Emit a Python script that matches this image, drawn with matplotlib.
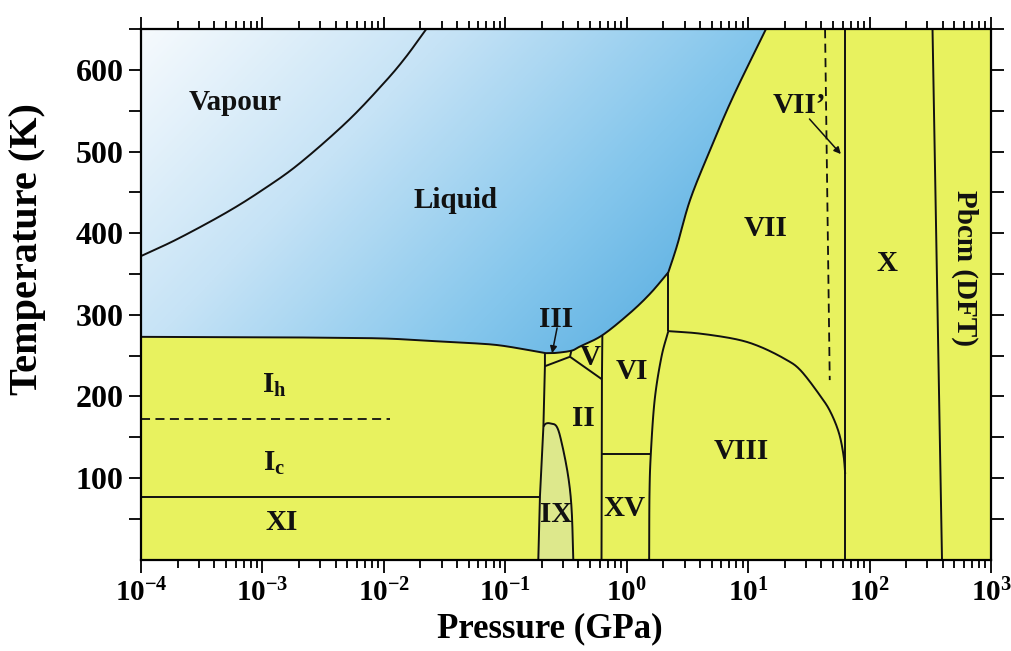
import numpy as np
import matplotlib
matplotlib.use("Agg")
import matplotlib.pyplot as plt
from matplotlib.colors import LinearSegmentedColormap
from matplotlib.ticker import FixedLocator, LogLocator, NullFormatter

plt.rcParams["font.family"] = ["Liberation Serif", "DejaVu Serif"]
plt.rcParams["font.weight"] = "bold"
plt.rcParams["mathtext.fontset"] = "custom"
plt.rcParams["mathtext.rm"] = "Liberation Serif:bold"
plt.rcParams["mathtext.bf"] = "Liberation Serif:bold"
plt.rcParams["mathtext.it"] = "Liberation Serif:bold"

# ---- phase boundaries (pressure in GPa, temperature in K) ----
# liquid / vapour coexistence up to the critical point
boil_P = [1e-4, 2e-4, 5e-4, 1e-3, 2e-3, 5e-3, 1e-2, 1.5e-2, 0.0223]
boil_T = [372, 393, 425, 453, 485, 537, 584, 615, 650]

# melting curve of ice Ih
melt_ih_P = [1e-4, 1e-3, 3e-3, 1e-2, 0.024, 0.05, 0.085, 0.14, 0.212]
melt_ih_T = [273, 272.5, 272, 271, 268, 265.5, 263, 258, 253]

# melting curve of ices III, V and VI
melt_hp_P = [0.212, 0.26, 0.35, 0.41, 0.63, 1.06, 1.56, 2.2]
melt_hp_T = [253, 253.3, 256, 261, 275, 302, 326, 352]

# melting curve of ice VII
melt_vii_P = [2.2, 2.6, 3.33, 4.86, 7.5, 14.0]
melt_vii_T = [352, 385, 441, 502, 567, 650]

# Ih / III / II / IX boundary
ih_P = [0.212, 0.212, 0.206, 0.193, 0.187]
ih_T = [253, 237, 163, 78, 0]

# III / II and III / V
iii_ii_P = [0.212, 0.341]
iii_ii_T = [237, 248.6]
iii_v_P = [0.341, 0.35]
iii_v_T = [248.6, 256]

# V / II
v_ii_P = [0.341, 0.625]
v_ii_T = [248.6, 221]

# V, II, XV / VI
vi_left_P = [0.63, 0.625, 0.62]
vi_left_T = [275, 221, 0]

# VI / XV
vi_xv_P = [0.62, 1.58]
vi_xv_T = [130, 130]

# VI, XV / VIII
vi_viii_P = [1.53, 1.54, 1.58, 1.70, 1.93, 2.2]
vi_viii_T = [0, 80, 130, 196, 248, 280]

# VI / VII
vi_vii_P = [2.2, 2.2]
vi_vii_T = [280, 352]

# VII / VIII
vii_viii_P = [2.2, 4.0, 8.0, 12.5, 20, 27, 40, 48, 56, 61, 63]
vii_viii_T = [280, 277, 270, 261, 246, 232, 199, 180, 155, 128, 105]

# VII' (dashed), VII, VIII / X, X / Pbcm
vii_prime_P = [43, 47]
vii_prime_T = [650, 220]
x_P = [63, 63]
x_T = [0, 650]
pbcm_P = [330, 395]
pbcm_T = [650, 0]

# XI / Ic and Ih / Ic (dashed)
xi_P = [1e-4, 0.193]
xi_T = [77, 77]
ic_P = [1e-4, 0.0112]
ic_T = [172, 172]

# ice IX dome (right edge), closed along the Ih / II line
ix_P = [0.206, 0.215, 0.233, 0.265, 0.292, 0.330, 0.352, 0.363]
ix_T = [163, 166.5, 167, 163, 142.5, 101.6, 60.8, 0]
ix_base_P = [0.187, 0.193]
ix_base_T = [0, 78]

# phase labels: (text, P, T)
labels = [
    ("Vapour", 5.9e-4, 560),
    ("Liquid", 0.039, 440),
    ("VII\u2019", 26.7, 557),
    ("VII", 14.0, 406),
    ("X", 139, 363),
    ("III", 0.262, 294),
    ("V", 0.50, 248),
    ("VI", 1.10, 231),
    ("II", 0.436, 173),
    ("VIII", 8.7, 132),
    ("IX", 0.262, 55),
    ("XV", 0.968, 63),
    (r"$\mathbf{I_h}$", 1.25e-3, 214),
    (r"$\mathbf{I_c}$", 1.25e-3, 118),
    ("XI", 1.45e-3, 45),
]

xdecades = [-4, -3, -2, -1, 0, 1, 2, 3]
yticks = [100, 200, 300, 400, 500, 600]

ICE = "#e8f25f"
ICE_IX = "#dde88c"
LINE = "#111111"


def smooth(P, T, n=24):
    """Catmull-Rom curve through (log P, T) points, returned as (P, T)."""
    x = np.log10(np.asarray(P, float))
    y = np.asarray(T, float)
    if len(x) < 3:
        return np.asarray(P, float), y
    xp = np.concatenate([[2 * x[0] - x[1]], x, [2 * x[-1] - x[-2]]])
    yp = np.concatenate([[2 * y[0] - y[1]], y, [2 * y[-1] - y[-2]]])
    t = np.linspace(0, 1, n, endpoint=False)[:, None]
    out = []
    for i in range(1, len(xp) - 2):
        p0, p1, p2, p3 = (np.array([xp[j], yp[j]]) for j in range(i - 1, i + 3))
        seg = 0.5 * ((2 * p1) + (-p0 + p2) * t + (2 * p0 - 5 * p1 + 4 * p2 - p3) * t ** 2
                     + (-p0 + 3 * p1 - 3 * p2 + p3) * t ** 3)
        out.append(seg)
    out.append(np.array([[x[-1], y[-1]]]))
    pts = np.vstack(out)
    return 10 ** pts[:, 0], pts[:, 1]


fig = plt.figure(figsize=(10.11, 6.51), dpi=100)
ax = fig.add_axes([0.1395, 0.1404, 0.8407, 0.8147])
ax.set_xscale("log")
ax.set_xlim(1e-4, 1e3)
ax.set_ylim(0, 650)

# fluid background: diagonal light-to-blue gradient
cmap = LinearSegmentedColormap.from_list(
    "fluid", [(0.0, "#f6fafd"), (0.35, "#c6e3f6"), (0.7, "#84c6ec"), (1.0, "#52aadf")])
ny, nx = 300, 500
u = np.linspace(0, 1, nx)[None, :] / 0.73
w = (1 - np.linspace(0, 1, ny)[:, None]) / 0.61
s = np.clip(0.7 * u + 0.35 * w, 0, 1)
ax.imshow(s, cmap=cmap, vmin=0, vmax=1, origin="lower", extent=(0, 1, 0, 1),
          transform=ax.transAxes, aspect="auto", interpolation="bilinear", zorder=0)

# smoothed boundaries
boil = smooth(boil_P, boil_T)
m1 = smooth(melt_ih_P, melt_ih_T)
m2 = smooth(melt_hp_P, melt_hp_T)
m3 = smooth(melt_vii_P, melt_vii_T)
melt_P = np.concatenate([m1[0], m2[0][1:], m3[0][1:]])
melt_T = np.concatenate([m1[1], m2[1][1:], m3[1][1:]])
vi_viii = smooth(vi_viii_P, vi_viii_T)
vii_viii = smooth(vii_viii_P, vii_viii_T)
ix = smooth(ix_P, ix_T)

# solid region below/right of the melting curve
ax.fill(np.concatenate([melt_P, [1e3, 1e3, 1e-4]]),
        np.concatenate([melt_T, [650, 0, 0]]), color=ICE, lw=0, zorder=1)
ax.fill(np.concatenate([ix_base_P, ix[0]]), np.concatenate([ix_base_T, ix[1]]),
        color=ICE_IX, lw=0, zorder=1.5)

lw = 1.4
for P, T in [boil, (melt_P, melt_T), (ih_P, ih_T),
             (iii_ii_P, iii_ii_T), (iii_v_P, iii_v_T), (v_ii_P, v_ii_T),
             (vi_left_P, vi_left_T), (vi_xv_P, vi_xv_T), vi_viii, (vi_vii_P, vi_vii_T),
             vii_viii, (x_P, x_T), (pbcm_P, pbcm_T), (xi_P, xi_T), ix]:
    ax.plot(P, T, color=LINE, lw=lw, zorder=3, solid_capstyle="butt")
ax.plot(vii_prime_P, vii_prime_T, color=LINE, lw=1.3, ls=(0, (5, 3)), zorder=3)
ax.plot(ic_P, ic_T, color=LINE, lw=1.3, ls=(0, (5, 3)), zorder=3)

for txt, P, T in labels:
    ax.text(P, T, txt, fontsize=21, fontweight="bold", ha="center", va="center",
            color="#111111", zorder=4)
ax.text(611, 357, "Pbcm (DFT)", fontsize=21, fontweight="bold", rotation=-90,
        ha="center", va="center", color="#111111", zorder=4)

arrow = dict(arrowstyle="-|>", color=LINE, lw=1.1, mutation_scale=10, shrinkA=0, shrinkB=0)
ax.annotate("", xy=(0.243, 253), xytext=(0.267, 284), arrowprops=arrow, zorder=4)
ax.annotate("", xy=(58, 497), xytext=(32, 540), arrowprops=arrow, zorder=4)

# axes styling
for sp in ax.spines.values():
    sp.set_linewidth(1.6)
    sp.set_zorder(5)
ax.xaxis.set_major_locator(FixedLocator([10.0 ** d for d in xdecades]))
ax.xaxis.set_minor_locator(LogLocator(base=10, subs=np.arange(2, 10), numticks=20))
ax.xaxis.set_minor_formatter(NullFormatter())
ax.set_xticklabels([r"$\mathbf{10^{%d}}$" % d for d in xdecades])
ax.set_yticks(yticks)
ax.set_yticks(np.arange(50, 651, 100), minor=True)
ax.tick_params(which="both", direction="out", top=True, right=True, width=1.4,
               color=LINE)
ax.tick_params(axis="y", labelsize=23)
ax.tick_params(axis="x", labelsize=21, pad=5)
ax.tick_params(which="major", length=9)
ax.tick_params(which="minor", length=6)
ax.tick_params(axis="y", which="minor", length=9)
for lab in ax.get_yticklabels():
    lab.set_fontweight("bold")

ax.set_xlabel("Pressure (GPa)", fontsize=25, fontweight="bold")
ax.xaxis.set_label_coords(0.481, -0.1)
ax.set_ylabel("Temperature (K)", fontsize=29, fontweight="bold")
ax.yaxis.set_label_coords(-0.112, 0.585)

fig.savefig("out.png", dpi=100)
